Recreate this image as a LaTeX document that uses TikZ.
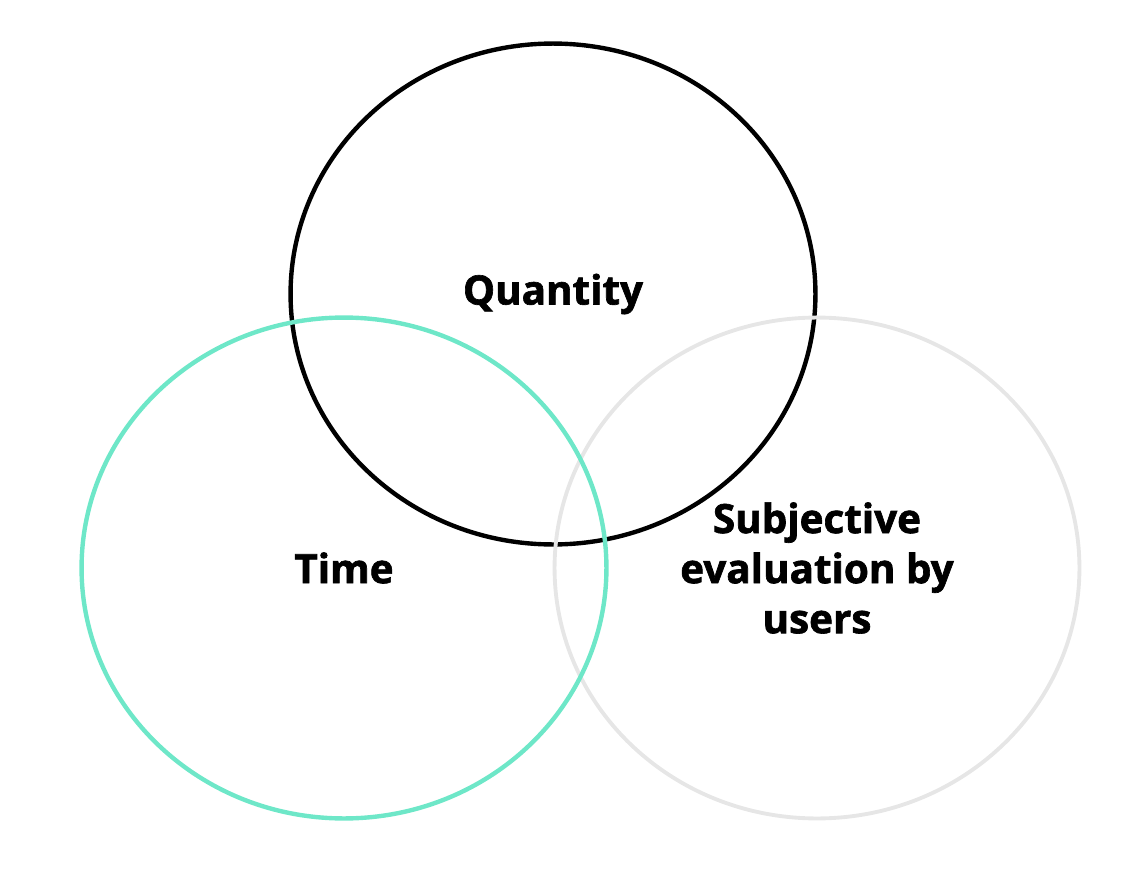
\documentclass[tikz,border=0pt]{standalone}
\usepackage{fontspec}
\setmainfont{Open Sans}[BoldFeatures={FakeBold=1.6}]
\usetikzlibrary{shapes.geometric}
\definecolor{vmint}{HTML}{6EE7C8}
\definecolor{vgrey}{HTML}{E6E6E6}
\tikzset{
  venn/.style={ellipse,draw,line width=2.5pt,minimum width=10.5cm,minimum height=10.02cm,
    inner sep=0pt,text=black,align=center,font=\bfseries\fontsize{23}{28.5}\selectfont}
}
\begin{document}
\begin{tikzpicture}[x=0.02cm,y=-0.02cm]
  \useasboundingbox (0,0) rectangle (1130,872);
  \node[venn] (quantity) at (553,294) {Quantity};
  \node[venn,vgrey,line width=2.2pt,text=black] (subjective) at (817,568) {Subjective\\evaluation by\\users};
  \node[venn,vmint,text=black] (time) at (344,568) {Time};
\end{tikzpicture}
\end{document}
